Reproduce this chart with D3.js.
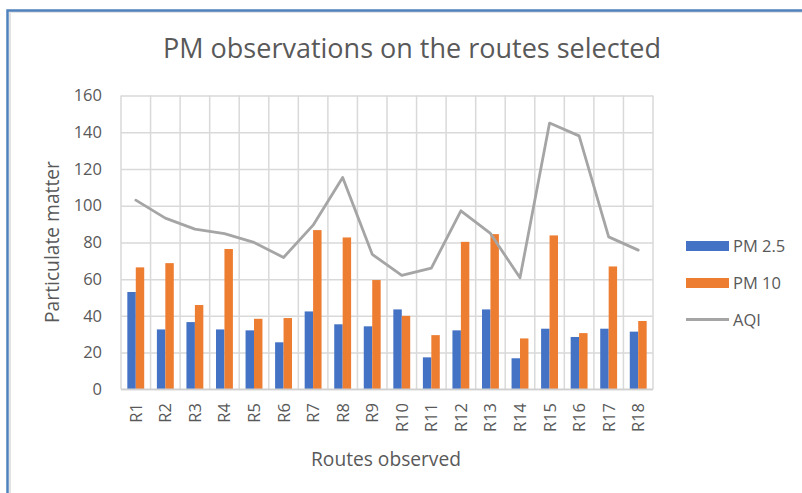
<!DOCTYPE html>
<html lang="en">
  <style>
    body { margin: 0; background: #fff; }
    text { font-family: "Open Sans", "Noto Sans", sans-serif; fill: #595959; }
    .grid line { stroke: #d9d9d9; stroke-width: 1.5px; }
  </style>
  <head>
    <meta charset="UTF-8" />
    <title>PM observations</title>
  </head>
  <body>
    <div id="wrapper"></div>
    <script src="https://d3js.org/d3.v7.min.js"></script>
    <script>
      // data
      var routes = ["R1","R2","R3","R4","R5","R6","R7","R8","R9","R10","R11","R12","R13","R14","R15","R16","R17","R18"];
      var pm25 = [53, 32.6, 36.6, 32.6, 32.1, 25.6, 42.4, 35.4, 34.3, 43.5, 17.4, 32.1, 43.5, 16.9, 33, 28.5, 33, 31.4];
      var pm10 = [66.4, 68.7, 45.9, 76.4, 38.4, 38.8, 86.7, 82.7, 59.5, 40, 29.5, 80.3, 84.5, 27.7, 83.8, 30.6, 66.9, 37.2];
      var aqi  = [103, 93.2, 87.2, 84.8, 80, 71.8, 89.4, 115.4, 73.5, 62, 66, 97.2, 84.9, 60.7, 145, 138, 83, 75.8];
      var yTicks = [0, 20, 40, 60, 80, 100, 120, 140, 160];
      var seriesNames = ["PM 2.5", "PM 10", "AQI"];
      var colors = ["#4472c4", "#ed7d31", "#a5a5a5"];

      var W = 802, H = 493;
      var pLeft = 121, pRight = 653, pTop = 95.5, pBottom = 389.3;

      var svg = d3.select("#wrapper").append("svg")
          .attr("width", W)
          .attr("height", H);

      // fit a text to a target width
      function fitWidth(sel, size, target) {
        var w = sel.node().getComputedTextLength();
        sel.style("font-size", (size * target / w) + "px");
      }

      // chart frame
      svg.append("path")
          .attr("d", "M10,493 V12 H802")
          .attr("fill", "none")
          .attr("stroke", "#e3e3e3")
          .attr("stroke-width", 2);
      svg.append("path")
          .attr("d", "M7.5,493 V10.5 H802")
          .attr("fill", "none")
          .attr("stroke", "#4f81bd")
          .attr("stroke-width", 2.5);

      var x = d3.scaleBand().domain(routes).range([pLeft, pRight]).paddingInner(0).paddingOuter(0);
      var y = d3.scaleLinear().domain([0, 160]).range([pBottom, pTop]);
      var barW = x.bandwidth() / 3.5;

      // horizontal gridlines
      svg.append("g")
          .attr("class", "grid")
          .attr("transform", "translate(" + pLeft + ",0)")
          .call(d3.axisLeft(y).tickValues(yTicks).tickSize(-(pRight - pLeft)).tickFormat(""))
          .call(function(g) { g.select(".domain").remove(); });

      // vertical gridlines at category boundaries
      svg.append("g")
          .attr("class", "grid")
          .selectAll("line")
          .data(d3.range(routes.length + 1))
          .join("line")
          .attr("x1", function(i) { return pLeft + i * x.step(); })
          .attr("x2", function(i) { return pLeft + i * x.step(); })
          .attr("y1", pTop)
          .attr("y2", pBottom);

      // y tick labels
      svg.append("g")
          .selectAll("text")
          .data(yTicks)
          .join("text")
          .attr("x", 102)
          .attr("y", function(d) { return y(d) + 5.8; })
          .attr("text-anchor", "end")
          .style("font-size", "16.5px")
          .text(function(d) { return d; });

      // bars
      [pm25, pm10].forEach(function(vals, s) {
        svg.append("g")
            .selectAll("rect")
            .data(vals)
            .join("rect")
            .attr("x", function(d, i) { return x(routes[i]) + barW * 0.75 + s * barW; })
            .attr("y", function(d) { return y(d); })
            .attr("width", barW)
            .attr("height", function(d) { return pBottom - y(d); })
            .attr("fill", colors[s]);
      });

      // AQI line
      var line = d3.line()
          .x(function(d, i) { return x(routes[i]) + x.bandwidth() / 2; })
          .y(function(d) { return y(d); });
      svg.append("path")
          .datum(aqi)
          .attr("d", line)
          .attr("fill", "none")
          .attr("stroke", colors[2])
          .attr("stroke-width", 2.8)
          .attr("stroke-linejoin", "round")
          .attr("stroke-linecap", "round");

      // baseline axis
      svg.append("line")
          .attr("x1", pLeft).attr("x2", pRight)
          .attr("y1", pBottom).attr("y2", pBottom)
          .attr("stroke", "#d0d0d0")
          .attr("stroke-width", 1.5);

      // x tick labels (rotated)
      svg.append("g")
          .selectAll("text")
          .data(routes)
          .join("text")
          .attr("transform", function(d) {
            return "translate(" + (x(d) + x.bandwidth() / 2 + 6) + ",403) rotate(-90)";
          })
          .attr("text-anchor", "end")
          .style("font-size", "16.5px")
          .text(function(d) { return d; });

      // titles
      var title = svg.append("text")
          .attr("x", 412)
          .attr("y", 58)
          .attr("text-anchor", "middle")
          .style("font-size", "24px")
          .text("PM observations on the routes selected");
      fitWidth(title, 24, 498);

      var xt = svg.append("text")
          .attr("x", 386)
          .attr("y", 466)
          .attr("text-anchor", "middle")
          .style("font-size", "17px")
          .text("Routes observed");
      fitWidth(xt, 17, 150);

      var yt = svg.append("text")
          .attr("transform", "translate(59,242) rotate(-90)")
          .attr("text-anchor", "middle")
          .style("font-size", "17px")
          .text("Particulate matter");
      fitWidth(yt, 17, 162);

      // legend
      var legend = svg.append("g");
      seriesNames.forEach(function(name, i) {
        var ly = 246 + i * 37;
        if (i < 2) {
          legend.append("rect")
              .attr("x", 686).attr("y", ly - 5)
              .attr("width", 43).attr("height", 10)
              .attr("fill", colors[i]);
        } else {
          legend.append("line")
              .attr("x1", 686).attr("x2", 729)
              .attr("y1", ly - 0.5).attr("y2", ly - 0.5)
              .attr("stroke", colors[i])
              .attr("stroke-width", 2.8);
        }
        legend.append("text")
            .attr("x", 733)
            .attr("y", ly + 6)
            .style("font-size", "16.5px")
            .text(name);
      });
    </script>
  </body>
</html>
